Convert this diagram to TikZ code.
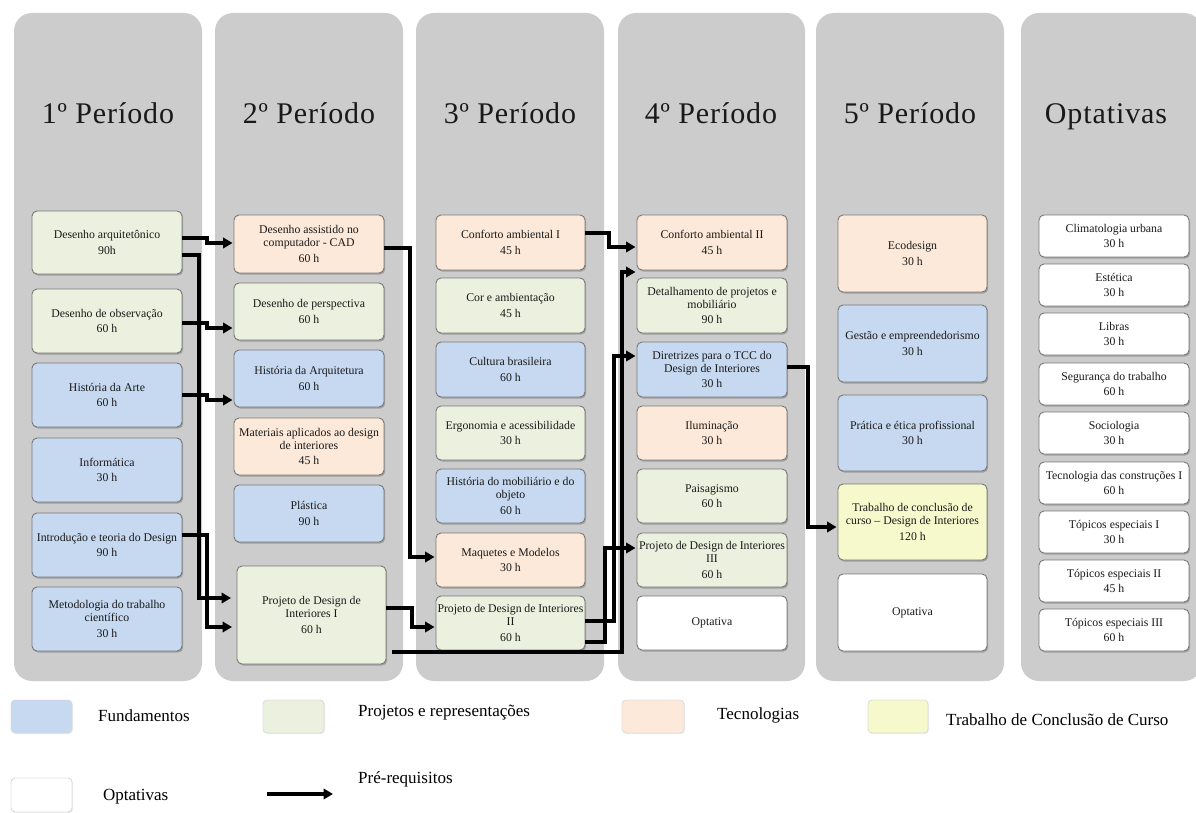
\documentclass[tikz,border=0pt]{standalone}
\usepackage{fontspec}
\setmainfont{Liberation Serif}
\newfontfamily\titlefont[LetterSpace=3]{Liberation Serif}
\usetikzlibrary{arrows.meta,shadows,calc}
\definecolor{colgray}{RGB}{204,204,204}
\definecolor{fblue}{RGB}{198,217,241}
\definecolor{fgreen}{RGB}{235,241,222}
\definecolor{forange}{RGB}{253,233,217}
\definecolor{fyellow}{RGB}{246,249,203}
\definecolor{fwhite}{RGB}{255,255,255}
\definecolor{bordergray}{RGB}{120,120,120}
\definecolor{txt}{RGB}{25,25,25}
\tikzset{
  column/.style={fill=colgray, rounded corners=18pt},
  coltitle/.style={font=\titlefont\fontsize{30}{32}\selectfont, text=txt, anchor=base},
  cbox/.style={draw=bordergray, line width=0.9pt, rounded corners=5pt, align=flush center,
    inner sep=1pt, outer sep=0pt, text width=146pt, text=txt,
    font=\fontsize{11.8}{12.6}\selectfont,
    drop shadow={shadow xshift=1.2pt, shadow yshift=-1.5pt, opacity=0.35, fill=black!70}},
  swatch/.style={draw=black!15, rounded corners=4pt,
    drop shadow={shadow xshift=1pt, shadow yshift=-1pt, opacity=0.15, fill=black!50}},
  legtext/.style={font=\fontsize{17}{19}\selectfont, anchor=west, text=black, inner sep=0pt},
  arr/.style={line width=3.3pt, -{Triangle[length=9.5pt,width=10.5pt]}, line join=miter, shorten >=1.5pt},
}
\newcommand\course[7]{\node[cbox,fill=#6,minimum width=#4pt,minimum height=#5pt,anchor=north west] (#1) at (#2,#3) {#7};}
\begin{document}
\begin{tikzpicture}[x=1pt,y=-1pt]
\useasboundingbox (0,0) rectangle (1196,813);
\fill[white] (0,0) rectangle (1196,813);
% columns
\fill[column] (14,13) rectangle (202,681);
\fill[column] (215,13) rectangle (403,681);
\fill[column] (416,13) rectangle (604,681);
\fill[column] (618,13) rectangle (805,681);
\fill[column] (816,13) rectangle (1004,681);
\fill[column] (1021,13) rectangle (1202,681);
% titles
\node[coltitle] (t1) at (108,124) {1º Período};
\node[coltitle] (t2) at (309,124) {2º Período};
\node[coltitle] (t3) at (510,124) {3º Período};
\node[coltitle] (t4) at (711,124) {4º Período};
\node[coltitle] (t5) at (910,124) {5º Período};
\node[coltitle] (t6) at (1106,124) {Optativas};
% column 1
\course{c1a}{32}{211}{150}{63}{fgreen}{Desenho arquitetônico\\[3pt]90h}
\course{c1b}{32}{289}{150}{64}{fgreen}{Desenho de observação\\[3pt]60 h}
\course{c1c}{32}{363}{150}{64}{fblue}{História da Arte\\[3pt]60 h}
\course{c1d}{32}{438}{150}{64}{fblue}{Informática\\[3pt]30 h}
\course{c1e}{32}{513}{150}{64}{fblue}{Introdução e teoria do Design\\[3pt]90 h}
\course{c1f}{32}{587}{150}{64}{fblue}{Metodologia do trabalho\\científico\\[3pt]30 h}
% column 2
\course{c2a}{234}{215}{150}{58}{forange}{Desenho assistido no\\computador - CAD\\[3pt]60 h}
\course{c2b}{234}{283}{150}{57}{fgreen}{Desenho de perspectiva\\[3pt]60 h}
\course{c2c}{234}{350}{150}{57}{fblue}{História da Arquitetura\\[3pt]60 h}
\course{c2d}{234}{418}{150}{57}{forange}{Materiais aplicados ao design\\de interiores\\[3pt]45 h}
\course{c2e}{234}{485}{150}{57}{fblue}{Plástica\\[3pt]90 h}
\course{c2f}{237}{566}{149}{98}{fgreen}{Projeto de Design de\\Interiores I\\[3pt]60 h}
% column 3
\course{c3a}{436}{215}{149}{55}{forange}{Conforto ambiental I\\[3pt]45 h}
\course{c3b}{436}{278}{149}{55}{fgreen}{Cor e ambientação\\[3pt]45 h}
\course{c3c}{436}{342}{149}{55}{fblue}{Cultura brasileira\\[3pt]60 h}
\course{c3d}{436}{406}{149}{54}{fgreen}{Ergonomia e acessibilidade\\[3pt]30 h}
\course{c3e}{436}{469}{149}{54}{fblue}{História do mobiliário e do\\objeto\\[3pt]60 h}
\course{c3f}{436}{533}{149}{54}{forange}{Maquetes e Modelos\\[3pt]30 h}
\course{c3g}{436}{596}{149}{54}{fgreen}{Projeto de Design de Interiores\\II\\[3pt]60 h}
% column 4
\course{c4a}{637}{215}{150}{55}{forange}{Conforto ambiental II\\[3pt]45 h}
\course{c4b}{637}{278}{150}{55}{fgreen}{Detalhamento de projetos e\\mobiliário\\[3pt]90 h}
\course{c4c}{637}{342}{150}{55}{fblue}{Diretrizes para o TCC do\\Design de Interiores\\[3pt]30 h}
\course{c4d}{637}{406}{150}{54}{forange}{Iluminação\\[3pt]30 h}
\course{c4e}{637}{469}{150}{54}{fgreen}{Paisagismo\\[3pt]60 h}
\course{c4f}{637}{533}{150}{54}{fgreen}{Projeto de Design de Interiores\\III\\[3pt]60 h}
\course{c4g}{637}{596}{150}{54}{fwhite}{Optativa}
% column 5
\course{c5a}{838}{215}{149}{77}{forange}{Ecodesign\\[3pt]30 h}
\course{c5b}{838}{305}{149}{77}{fblue}{Gestão e empreendedorismo\\[3pt]30 h}
\course{c5c}{838}{395}{149}{76}{fblue}{Prática e ética profissional\\[3pt]30 h}
\course{c5d}{838}{484}{149}{76}{fyellow}{Trabalho de conclusão de\\curso – Design de Interiores\\[3pt]120 h}
\course{c5e}{838}{574}{149}{77}{fwhite}{Optativa}
% column 6
\course{c6a}{1039}{215}{150}{42}{fwhite}{Climatologia urbana\\[3pt]30 h}
\course{c6b}{1039}{264}{150}{42}{fwhite}{Estética\\[3pt]30 h}
\course{c6c}{1039}{313}{150}{42}{fwhite}{Libras\\[3pt]30 h}
\course{c6d}{1039}{363}{150}{42}{fwhite}{Segurança do trabalho\\[3pt]60 h}
\course{c6e}{1039}{412}{150}{42}{fwhite}{Sociologia\\[3pt]30 h}
\course{c6f}{1039}{462}{150}{42}{fwhite}{Tecnologia das construções I\\[3pt]60 h}
\course{c6g}{1039}{511}{150}{42}{fwhite}{Tópicos especiais I\\[3pt]30 h}
\course{c6h}{1039}{560}{150}{42}{fwhite}{Tópicos especiais II\\[3pt]45 h}
\course{c6i}{1039}{609}{150}{42}{fwhite}{Tópicos especiais III\\[3pt]60 h}
% prerequisite arrows
\draw[arr] (c1a.east |- 0,238) -- (207,238) -- (207,243) -- (c2a.west |- 0,243);
\draw[arr,shorten >=6pt] (c1a.east |- 0,255) -- (199,255) -- (199,598) -- (c2f.west |- 0,598);
\draw[arr] (c1b.east |- 0,323) -- (207,323) -- (207,328) -- (c2b.west |- 0,328);
\draw[arr] (c1c.east |- 0,395) -- (207,395) -- (207,400) -- (c2c.west |- 0,400);
\draw[arr,shorten >=5pt] (c1e.east |- 0,535) -- (207,535) -- (207,627) -- (c2f.west |- 0,627);
\draw[arr] (c2a.east |- 0,248) -- (410,248) -- (410,557) -- (c3f.west |- 0,557);
\draw[arr] (c2f.east |- 0,608) -- (412,608) -- (412,627) -- (c3g.west |- 0,627);
\draw[arr] ([xshift=6pt]c2f.east |- 0,652) -- (622,652) -- (622,272) -- (c4b.west |- 0,272);
\draw[arr] (c3g.east |- 0,621) -- (614,621) -- (614,356) -- (c4c.west |- 0,356);
\draw[arr] (c3g.east |- 0,642) -- (605,642) -- (605,548) -- (c4f.west |- 0,548);
\draw[arr] (c3a.east |- 0,233) -- (609,233) -- (609,247) -- (c4a.west |- 0,247);
\draw[arr] (c4c.east |- 0,367) -- (808,367) -- (808,527) -- (c5d.west |- 0,527);
% legend
\fill[swatch, fill=fblue] (11,700) rectangle (72,733);
\fill[swatch, fill=fgreen] (263,700) rectangle (324,733);
\fill[swatch, fill=forange] (622,700) rectangle (684,733);
\fill[swatch, fill=fyellow] (868,700) rectangle (928,733);
\fill[swatch, fill=white] (11,778) rectangle (72,812);
\draw[black!15, rounded corners=4pt] (11,700) rectangle (72,733);
\draw[black!15, rounded corners=4pt] (263,700) rectangle (324,733);
\draw[black!15, rounded corners=4pt] (622,700) rectangle (684,733);
\draw[black!15, rounded corners=4pt] (868,700) rectangle (928,733);
\draw[black!20, rounded corners=4pt] (11,778) rectangle (72,812);
\node[legtext] (l1) at (98,716) {Fundamentos};
\node[legtext] (l2) at (358,713) {Projetos e representações};
\node[legtext] (l3) at (717,715) {Tecnologias};
\node[legtext] (l4) at (946,720) {Trabalho de Conclusão de Curso};
\node[legtext] (l5) at (103,797) {Optativas};
\node[legtext] (l6) at (358,779) {Pré-requisitos};
\coordinate (la) at (267,794);
\coordinate (lb) at (333,794);
\draw[arr,shorten >=0pt] (la) -- (lb);
\end{tikzpicture}
\end{document}
